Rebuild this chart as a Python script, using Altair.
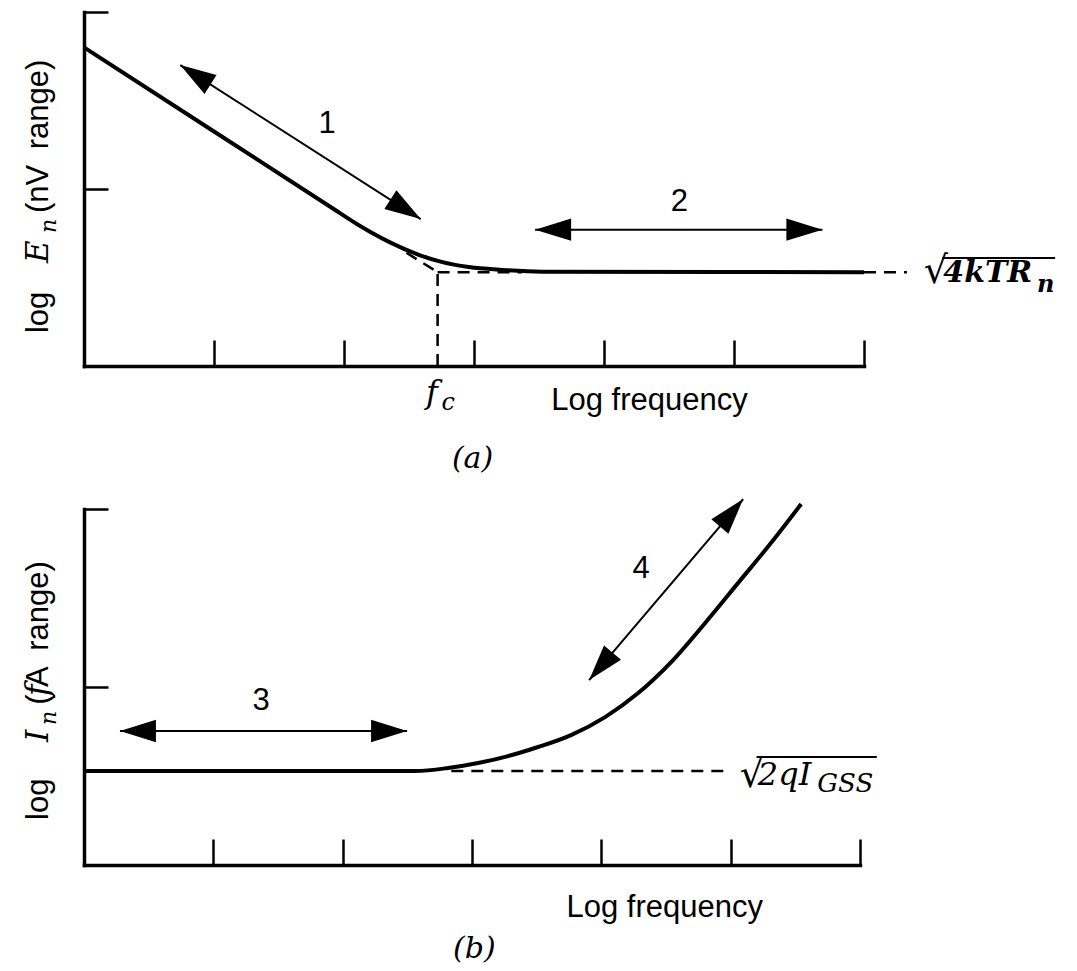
import math
import altair as alt
import pandas as pd

# ---------------- layout constants ----------------
WA, HA = 780, 354          # panel (a) plot area
WB, HB = 776, 356          # panel (b) plot area
XDOM = [0, 6]
YDOM = [0, 2]
XTICKS = [1, 2, 3, 4, 5, 6]
YTICKS = [1, 2]

# ---------------- panel (a): E_n vs log frequency ----------------
a_curve_x = [0.0, 1.0, 1.9, 2.14, 2.35, 2.58, 2.75, 2.96, 3.22, 3.52, 6.0]
a_curve_y = [1.80, 1.325, 0.897, 0.784, 0.70, 0.627, 0.588, 0.559, 0.543, 0.533, 0.53]
a_floor = 0.53
a_fc = 2.72
a_dash_x = [2.48, a_fc, a_fc, 6.0]
a_dash_y = [0.64, a_floor, 0.0, a_floor]
a_dash_x2 = [a_fc, 3.37, a_fc, 6.33]
a_dash_y2 = [a_floor, a_floor, a_floor, a_floor]
a_arrow_x = [0.74, 3.47]
a_arrow_y = [1.70, 0.77]
a_arrow_x2 = [2.59, 5.68]
a_arrow_y2 = [0.83, 0.77]
a_num_text = ["1", "2", "Log frequency"]
a_num_x = [1.87, 4.58, 4.35]
a_num_y = [1.316, 0.876, -0.249]
a_it_text = ["f", "c", "(a)"]
a_it_x = [2.63, 2.75, 2.83]
a_it_y = [-0.209, -0.249, -0.576]
a_it_size = [32, 24, 30]
a_math_text = ["4kTR", "n"]
a_math_x = [6.61, 7.33]
a_math_y = [0.475, 0.418]
a_math_size = [30, 24]
a_rad_x, a_rad_y = 6.46, 0.47
a_vinc = [6.60, 7.47, 0.61]
a_ytitle_text = ["log", "(nV\u2002range)"]
a_ytitle_x = [-0.277, -0.277]
a_ytitle_y = [0.186, 0.864]
a_ytit_text = ["E", "n"]
a_ytit_x = [-0.277, -0.215]
a_ytit_y = [0.582, 0.751]
a_ytit_size = [31, 22]

# ---------------- panel (b): I_n vs log frequency ----------------
b_curve_x = [0.0, 1.2, 2.56, 2.815, 3.047, 3.279, 3.511, 3.766, 4.029, 4.285, 4.540, 4.803, 5.058, 5.313, 5.545]
b_curve_y = [0.528, 0.528, 0.528, 0.545, 0.573, 0.612, 0.663, 0.730, 0.831, 0.966, 1.140, 1.360, 1.585, 1.810, 2.028]
b_floor = 0.528
b_dash_x = [2.84]
b_dash_y = [b_floor]
b_dash_x2 = [4.96]
b_dash_y2 = [b_floor]
b_arrow_x = [0.278, 3.906]
b_arrow_y = [0.753, 1.039]
b_arrow_x2 = [2.498, 5.097]
b_arrow_y2 = [0.753, 2.056]
b_num_text = ["3", "4", "Log frequency"]
b_num_x = [1.369, 4.308, 4.49]
b_num_y = [0.871, 1.612, -0.292]
b_it_text = ["(b)"]
b_it_x = [2.854]
b_it_y = [-0.522]
b_it_size = [30]
b_math_text = ["2qI", "GSS"]
b_math_x = [5.21, 5.67]
b_math_y = [0.449, 0.41]
b_math_size = [32, 26]
b_rad_x, b_rad_y = 5.07, 0.44
b_vinc = [5.20, 6.13, 0.607]
b_ytitle_text = ["log", "(", "A\u2002range)"]
b_ytitle_x = [-0.278, -0.278, -0.278]
b_ytitle_y = [0.253, 0.90, 1.0]
b_ytit_text = ["I", "n", "f"]
b_ytit_x = [-0.278, -0.215, -0.278]
b_ytit_y = [0.691, 0.787, 0.95]
b_ytit_size = [31, 22, 31]

SANS = "Liberation Sans"
SERIF = "DejaVu Serif"
FS = 31
HEAD = "M0,0L-0.62,2L0.62,2Z"


def enc_x(W, H, field="x"):
    return alt.X(f"{field}:Q",
                 scale=alt.Scale(domain=XDOM, nice=False, zero=False),
                 axis=alt.Axis(orient="top", offset=-H, values=XTICKS, labels=False,
                               title=None, grid=False, tickSize=26, tickWidth=2.5,
                               domainWidth=3.5, domainColor="black", tickColor="black",
                               domainCap="square"))


def enc_y(W, H, field="y"):
    return alt.Y(f"{field}:Q",
                 scale=alt.Scale(domain=YDOM, nice=False, zero=False),
                 axis=alt.Axis(orient="right", offset=-W, values=YTICKS, labels=False,
                               title=None, grid=False, tickSize=24, tickWidth=2.5,
                               domainWidth=3.5, domainColor="black", tickColor="black",
                               domainCap="square"))


def heads(xs, ys, x2s, y2s, W, H):
    rows = []
    for x, y, x2, y2 in zip(xs, ys, x2s, y2s):
        dx = (x2 - x) * W / (XDOM[1] - XDOM[0])
        dy = -(y2 - y) * H / (YDOM[1] - YDOM[0])
        th = math.degrees(math.atan2(dy, dx))
        rows.append({"x": x2, "y": y2, "ang": (th + 90) % 360})
        rows.append({"x": x, "y": y, "ang": (th + 270) % 360})
    return pd.DataFrame(rows)


def text_layer(W, H, texts, xs, ys, sizes, angle, **props):
    df = pd.DataFrame({"x": xs, "y": ys, "t": texts, "s": sizes, "r": [angle] * len(texts)})
    return alt.Chart(df).mark_text(color="black", **props).encode(
        x=enc_x(W, H), y=enc_y(W, H), text="t:N",
        size=alt.Size("s:Q", scale=None), angle=alt.Angle("r:Q", scale=None))


def panel(W, H, cx, cy, dx, dy, dx2, dy2, ax, ay, ax2, ay2,
          num_t, num_x, num_y, it_t, it_x, it_y, it_s,
          m_t, m_x, m_y, m_s, m_bold, rad_x, rad_y, vinc,
          yt_t, yt_x, yt_y, yit_t, yit_x, yit_y, yit_s):
    curve = alt.Chart(pd.DataFrame({"x": cx, "y": cy})).mark_line(
        color="black", strokeWidth=4, interpolate="monotone").encode(
        x=enc_x(W, H), y=enc_y(W, H))
    dashed = alt.Chart(pd.DataFrame({"x": dx, "y": dy, "x2": dx2, "y2": dy2})).mark_rule(
        color="black", strokeWidth=2.5, strokeDash=[12, 8]).encode(
        x=enc_x(W, H), y=enc_y(W, H), x2="x2:Q", y2="y2:Q")
    shafts = alt.Chart(pd.DataFrame({"x": ax, "y": ay, "x2": ax2, "y2": ay2})).mark_rule(
        color="black", strokeWidth=2).encode(
        x=enc_x(W, H), y=enc_y(W, H), x2="x2:Q", y2="y2:Q")
    hd = alt.Chart(heads(ax, ay, ax2, ay2, W, H)).mark_point(
        shape=HEAD, filled=True, size=1296, color="black", opacity=1, strokeWidth=0).encode(
        x=enc_x(W, H), y=enc_y(W, H), angle=alt.Angle("ang:Q", scale=None))
    vin = alt.Chart(pd.DataFrame({"x": [vinc[0]], "x2": [vinc[1]], "y": [vinc[2]]})).mark_rule(
        color="black", strokeWidth=2).encode(x=enc_x(W, H), x2="x2:Q", y=enc_y(W, H))
    t_num = text_layer(W, H, num_t, num_x, num_y, [FS] * len(num_t), 0,
                       font=SANS, align="center", baseline="alphabetic")
    t_it = text_layer(W, H, it_t, it_x, it_y, it_s, 0,
                      font=SERIF, fontStyle="italic", align="left", baseline="alphabetic")
    t_math = text_layer(W, H, m_t, m_x, m_y, m_s, 0,
                        font=SERIF, fontStyle="italic", fontWeight="bold" if m_bold else "normal",
                        align="left", baseline="alphabetic")
    t_rad = text_layer(W, H, ["\u221a"], [rad_x], [rad_y], [38], 0,
                       font=SERIF, align="left", baseline="alphabetic")
    t_yt = text_layer(W, H, yt_t, yt_x, yt_y, [FS] * len(yt_t), 270,
                      font=SANS, align="left", baseline="alphabetic")
    t_yit = text_layer(W, H, yit_t, yit_x, yit_y, yit_s, 270,
                       font=SERIF, fontStyle="italic", align="left", baseline="alphabetic")
    return alt.layer(curve, dashed, shafts, hd, vin, t_num, t_it, t_math, t_rad, t_yt, t_yit
                     ).properties(width=W, height=H)


pa = panel(WA, HA, a_curve_x, a_curve_y, a_dash_x, a_dash_y, a_dash_x2, a_dash_y2,
           a_arrow_x, a_arrow_y, a_arrow_x2, a_arrow_y2,
           a_num_text, a_num_x, a_num_y, a_it_text, a_it_x, a_it_y, a_it_size,
           a_math_text, a_math_x, a_math_y, a_math_size, True, a_rad_x, a_rad_y, a_vinc,
           a_ytitle_text, a_ytitle_x, a_ytitle_y, a_ytit_text, a_ytit_x, a_ytit_y, a_ytit_size)

pb = panel(WB, HB, b_curve_x, b_curve_y, b_dash_x, b_dash_y, b_dash_x2, b_dash_y2,
           b_arrow_x, b_arrow_y, b_arrow_x2, b_arrow_y2,
           b_num_text, b_num_x, b_num_y, b_it_text, b_it_x, b_it_y, b_it_size,
           b_math_text, b_math_x, b_math_y, b_math_size, False, b_rad_x, b_rad_y, b_vinc,
           b_ytitle_text, b_ytitle_x, b_ytitle_y, b_ytit_text, b_ytit_x, b_ytit_y, b_ytit_size)

chart = alt.vconcat(pa, pb, spacing=22).properties(
    padding={"left": 14, "top": 2, "right": 5, "bottom": 5},
    background="white",
).configure_view(stroke=None)

chart.save("out.html", embed_options={"renderer": "svg", "actions": False})
